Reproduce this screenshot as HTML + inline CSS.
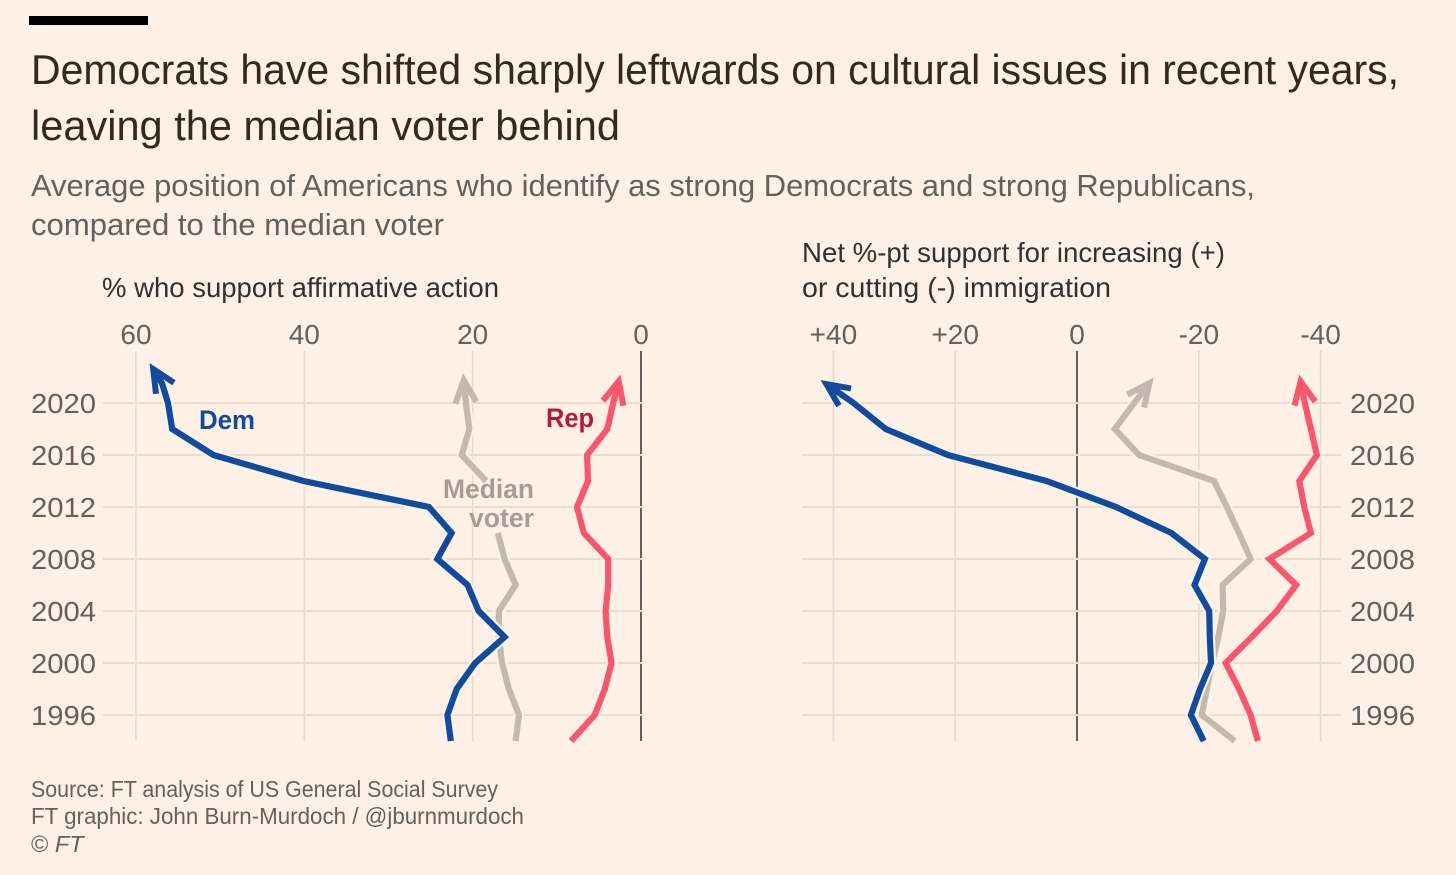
<!DOCTYPE html>
<html lang="en">
<head>
<meta charset="utf-8">
<title>Democrats have shifted sharply leftwards</title>
<style>
html,body{margin:0;padding:0;background:#fff1e5;}
svg{display:block;font-family:"Liberation Sans",sans-serif;}
</style>
</head>
<body>
<svg id="chart" xmlns="http://www.w3.org/2000/svg" width="1456" height="875" viewBox="0 0 1456 875">
  <rect x="0" y="0" width="1456" height="875" fill="#fff1e5"/>
  <rect x="29" y="16" width="119" height="9" fill="#000"/>
  <text x="31" y="84" font-size="41.5" fill="#33291f" textLength="1368" lengthAdjust="spacingAndGlyphs">Democrats have shifted sharply leftwards on cultural issues in recent years,</text>
  <text x="31" y="140" font-size="41.5" fill="#33291f" textLength="589" lengthAdjust="spacingAndGlyphs">leaving the median voter behind</text>
  <text x="31" y="196" font-size="30.5" fill="#66605c" textLength="1224" lengthAdjust="spacingAndGlyphs">Average position of Americans who identify as strong Democrats and strong Republicans,</text>
  <text x="31" y="235" font-size="30.5" fill="#66605c" textLength="413" lengthAdjust="spacingAndGlyphs">compared to the median voter</text>
  <text x="102" y="297" font-size="27.5" fill="#33302e" textLength="397" lengthAdjust="spacingAndGlyphs">% who support affirmative action</text>
  <text x="802" y="262" font-size="27.5" fill="#33302e" textLength="423" lengthAdjust="spacingAndGlyphs">Net %-pt support for increasing (+)</text>
  <text x="802" y="297" font-size="27.5" fill="#33302e" textLength="309" lengthAdjust="spacingAndGlyphs">or cutting (-) immigration</text>

  <g id="plots"></g>

  <text x="199" y="429" font-size="27" font-weight="bold" fill="#0f4c9e" textLength="56" lengthAdjust="spacingAndGlyphs">Dem</text>
  <text x="546" y="427" font-size="27" font-weight="bold" fill="#b5193f" textLength="48" lengthAdjust="spacingAndGlyphs">Rep</text>
  <text x="443" y="498" font-size="27" font-weight="bold" fill="#a89d94" textLength="91" lengthAdjust="spacingAndGlyphs">Median</text>
  <text x="469" y="527" font-size="27" font-weight="bold" fill="#a89d94" textLength="65" lengthAdjust="spacingAndGlyphs">voter</text>

  <text x="31" y="797" font-size="23.5" fill="#66605c" textLength="467" lengthAdjust="spacingAndGlyphs">Source: FT analysis of US General Social Survey</text>
  <text x="31" y="824" font-size="23.5" fill="#66605c" textLength="493" lengthAdjust="spacingAndGlyphs">FT graphic: John Burn-Murdoch / @jburnmurdoch</text>
  <text x="31" y="852" font-size="23.5" fill="#66605c">© <tspan font-style="italic">FT</tspan></text>
</svg>
<script>
// Shared axes data
const years = [1994, 1996, 1998, 2000, 2002, 2004, 2006, 2008, 2010, 2012, 2014, 2016, 2018, 2020];
const yearTicks = [1996, 2000, 2004, 2008, 2012, 2016, 2020];

// Left panel: % who support affirmative action
const leftTicks = [60, 40, 20, 0];
const leftTickLabels = ['60', '40', '20', '0'];
const leftDem = [22.6, 23.0, 21.9, 19.7, 16.2, 19.3, 20.6, 24.2, 22.5, 25.2, 40.1, 50.8, 55.7, 56.2];
const leftMedian = [14.9, 14.5, 15.7, 16.5, 16.9, 16.9, 14.9, 16.2, 17.0, null, 18.4, 21.3, 20.4, 20.8];
const leftRep = [8.3, 5.5, 4.3, 3.5, 4.0, 4.2, 3.9, 3.9, 6.8, 7.6, 6.3, 6.4, 4.0, 3.3];
const leftDemArrowYears = [2021.5, 2023.08];
const leftDemArrowValues = [56.9, 58.4];
const leftMedianArrowYears = [2022.3];
const leftMedianArrowValues = [21.15];
const leftRepArrowYears = [2022.2];
const leftRepArrowValues = [2.45];

// Right panel: net %-pt support for increasing or cutting immigration
const rightTicks = [40, 20, 0, -20, -40];
const rightTickLabels = ['+40', '+20', '0', '-20', '-40'];
const rightDem = [-20.8, -18.7, -20.2, -22.0, -21.8, -21.7, -19.3, -21.0, -15.5, -6.4, 5.0, 21.2, 31.4, 36.7];
const rightMedian = [-25.9, -20.5, -21.3, -22.2, -23.2, -24.0, -23.9, -28.5, -26.6, -24.6, -22.5, -10.2, -6.2, -9.4];
const rightRep = [-29.7, -28.5, -26.6, -24.4, -28.7, -32.8, -36.0, -31.6, -38.4, -37.3, -36.5, -39.4, -38.4, -37.4];
const rightDemArrowYears = [2021.77];
const rightDemArrowValues = [42.1];
const rightMedianArrowYears = [2021.97];
const rightMedianArrowValues = [-12.6];
const rightRepArrowYears = [2022.2];
const rightRepArrowValues = [-36.5];

const NS = 'http://www.w3.org/2000/svg';
const BG = '#fff1e5';
const DEM = '#0f4ca0';
const REP = '#fb566b';
const MED = '#c4b9af';
const plots = document.getElementById('plots');

function yScale(year) { return 403 + (2020 - year) * 13; }
function leftX(v) { return 641 - v * 8.417; }
function rightX(v) { return 1077 - v * 6.09; }

function make(tag, name, parent) {
  const el = document.createElementNS(NS, tag);
  
  
  parent.appendChild(el);
  return el;
}

function drawLine(x1, y1, x2, y2, color, width, name, parent) {
  const l = make('line', name, parent);
  l.setAttribute('x1', x1);
  l.setAttribute('y1', y1);
  l.setAttribute('x2', x2);
  l.setAttribute('y2', y2);
  l.setAttribute('stroke', color);
  l.setAttribute('stroke-width', width);
}

function drawText(x, y, str, anchor, name, parent, len) {
  const t = make('text', name, parent);
  t.setAttribute('x', x);
  t.setAttribute('y', y);
  t.setAttribute('font-size', 28);
  t.setAttribute('fill', '#66605c');
  t.setAttribute('text-anchor', anchor);
  if (len) {
    t.setAttribute('textLength', len);
    t.setAttribute('lengthAdjust', 'spacingAndGlyphs');
  }
  t.textContent = str;
}

function pointsD(pts) {
  let d = '';
  let pen = false;
  pts.forEach(function (p) {
    if (p === null) { pen = false; return; }
    d += (pen ? 'L' : 'M') + p[0].toFixed(1) + ' ' + p[1].toFixed(1);
    pen = true;
  });
  return d;
}

function drawPath(d, color, width, name, parent) {
  const p = make('path', name, parent);
  p.setAttribute('d', d);
  p.setAttribute('fill', 'none');
  p.setAttribute('stroke', color);
  p.setAttribute('stroke-width', width);
  p.setAttribute('stroke-linejoin', 'miter');
  p.setAttribute('stroke-miterlimit', '6');
}

function drawSeries(values, tailYears, tailValues, xFn, color, name, parent) {
  const pts = values.map(function (v, i) {
    return v === null ? null : [xFn(v), yScale(years[i])];
  });
  tailYears.forEach(function (yr, i) {
    pts.push([xFn(tailValues[i]), yScale(yr)]);
  });
  const tip = pts[pts.length - 1];
  const prev = pts[pts.length - 2];
  const dx = tip[0] - prev[0];
  const dy = tip[1] - prev[1];
  const len = Math.hypot(dx, dy);
  const ux = dx / len;
  const uy = dy / len;
  const half = 25 * Math.PI / 180;
  const headWidth = 6;
  const inset = (headWidth / 2) / Math.sin(half);
  const vx = tip[0] - ux * inset;
  const vy = tip[1] - uy * inset;
  const shaft = pts.slice(0, -1).concat([[vx, vy]]);
  const barb = 25;
  const cos = Math.cos(half);
  const sin = Math.sin(half);
  const b1 = [vx - barb * (ux * cos - uy * sin), vy - barb * (uy * cos + ux * sin)];
  const b2 = [vx - barb * (ux * cos + uy * sin), vy - barb * (uy * cos - ux * sin)];
  const headD = pointsD([b1, [vx, vy], b2]);
  const shaftD = pointsD(shaft);
  const g = make('g', name, parent);
  drawPath(shaftD, BG, 10.5, name + '-halo', g);
  drawPath(shaftD, color, 6.2, name + '-line', g);
  drawPath(headD, color, headWidth, name + '-arrowhead', g);
}

function drawPanel(cfg) {
  const g = make('g', cfg.name, plots);
  cfg.ticks.forEach(function (t, i) {
    const x = cfg.xFn(t);
    const zero = t === 0;
    drawLine(x, 351, x, 741, zero ? '#66605c' : '#e6d9ce', zero ? 2 : 1.6, cfg.name + '-gridline-x-' + cfg.labels[i], g);
    drawText(x, 344, cfg.labels[i], 'middle', cfg.name + '-tick-x-' + cfg.labels[i], g);
  });
  yearTicks.forEach(function (yr) {
    const y = yScale(yr);
    drawLine(cfg.gridStart, y, cfg.gridEnd, y, '#e9dcd1', 2, cfg.name + '-gridline-y-' + yr, g);
    drawText(cfg.yearX, y + 10, String(yr), 'start', cfg.name + '-tick-y-' + yr, g, 65);
  });
  drawSeries(cfg.median, cfg.medianTailYears, cfg.medianTailValues, cfg.xFn, MED, cfg.name + '-median-series', g);
  drawSeries(cfg.dem, cfg.demTailYears, cfg.demTailValues, cfg.xFn, DEM, cfg.name + '-dem-series', g);
  drawSeries(cfg.rep, cfg.repTailYears, cfg.repTailValues, cfg.xFn, REP, cfg.name + '-rep-series', g);
}

drawPanel({
  name: 'left-panel', xFn: leftX, ticks: leftTicks, labels: leftTickLabels,
  gridStart: 103, gridEnd: 642, yearX: 31,
  dem: leftDem, median: leftMedian, rep: leftRep,
  demTailYears: leftDemArrowYears, demTailValues: leftDemArrowValues,
  medianTailYears: leftMedianArrowYears, medianTailValues: leftMedianArrowValues,
  repTailYears: leftRepArrowYears, repTailValues: leftRepArrowValues
});
drawPanel({
  name: 'right-panel', xFn: rightX, ticks: rightTicks, labels: rightTickLabels,
  gridStart: 802, gridEnd: 1341, yearX: 1350,
  dem: rightDem, median: rightMedian, rep: rightRep,
  demTailYears: rightDemArrowYears, demTailValues: rightDemArrowValues,
  medianTailYears: rightMedianArrowYears, medianTailValues: rightMedianArrowValues,
  repTailYears: rightRepArrowYears, repTailValues: rightRepArrowValues
});
</script>
</body>
</html>
